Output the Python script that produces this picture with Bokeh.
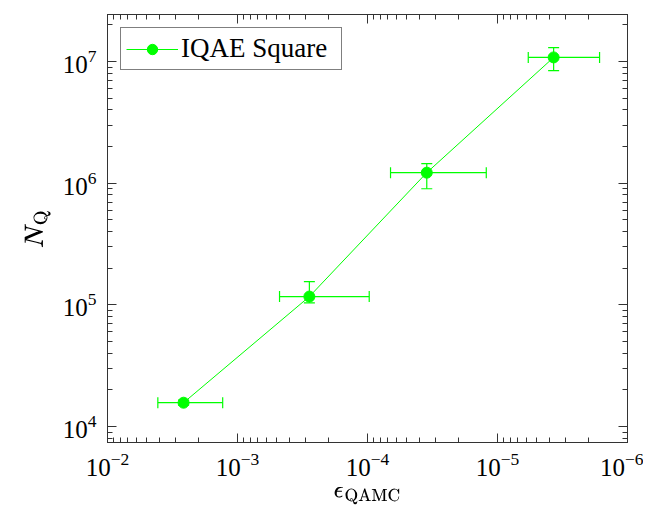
from bokeh.plotting import figure
from bokeh.models import (Range1d, ColumnDataSource, Whisker, TeeHead, LogAxis, LogTicker,
                          Legend, LegendItem, TeX)
from bokeh.embed import file_html
from bokeh.resources import INLINE

# data
eps = [2.6e-3, 2.8e-4, 3.5e-5, 3.7e-6]
eps_lo = [1.3e-3, 9.7e-5, 1.22e-5, 1.64e-6]   # smaller-epsilon end
eps_hi = [4.1e-3, 4.75e-4, 6.65e-5, 5.8e-6]   # larger-epsilon end
nq = [1.57e4, 1.17e5, 1.22e6, 1.08e7]
nq_lo = [1.5e4, 1.04e5, 9.0e5, 8.4e6]
nq_hi = [1.65e4, 1.55e5, 1.45e6, 1.30e7]
series_name = "IQAE Square"

GREEN = "#00ff00"
SERIF = "Liberation Serif"

src = ColumnDataSource(dict(x=eps, xl=eps_lo, xh=eps_hi, y=nq, yl=nq_lo, yh=nq_hi))

p = figure(width=643, height=512, x_axis_type="log", y_axis_type="log",
           x_range=Range1d(1e-2, 1e-6), y_range=Range1d(10**3.869, 10**7.386),
           output_backend="svg", toolbar_location=None,
           min_border_left=107, min_border_top=14, min_border_right=16, min_border_bottom=70)
p.background_fill_color = "white"
p.border_fill_color = "white"
p.xgrid.visible = False
p.ygrid.visible = False
p.outline_line_color = "#333333"
p.outline_line_width = 1

# error bars
wx = Whisker(source=src, base="y", lower="xl", upper="xh", dimension="width",
             line_color=GREEN, line_width=1.2,
             upper_head=TeeHead(size=11, line_color=GREEN, line_width=1.2),
             lower_head=TeeHead(size=11, line_color=GREEN, line_width=1.2))
wy = Whisker(source=src, base="x", lower="yl", upper="yh", dimension="height",
             line_color=GREEN, line_width=1.2,
             upper_head=TeeHead(size=11, line_color=GREEN, line_width=1.2),
             lower_head=TeeHead(size=11, line_color=GREEN, line_width=1.2))
p.add_layout(wx)
p.add_layout(wy)

r_line = p.line("x", "y", source=src, line_color=GREEN, line_width=1)
r_pts = p.scatter("x", "y", source=src, size=11, fill_color=GREEN, line_color=GREEN)

legend = Legend(items=[LegendItem(label=series_name, renderers=[r_line, r_pts])],
                location="top_left")
legend.label_text_font = SERIF
legend.label_text_font_size = "27px"
legend.label_text_color = "black"
legend.border_line_color = "black"
legend.border_line_width = 1
legend.margin = 13
legend.padding = 5
legend.glyph_width = 52
legend.glyph_height = 26
legend.label_standoff = 3
legend.label_width = 155
legend.background_fill_alpha = 1
p.add_layout(legend)

def style_axis(ax, labels=True):
    ax.axis_line_color = "#333333"
    ax.major_tick_line_color = "#333333"
    ax.minor_tick_line_color = "#333333"
    ax.major_tick_in = 9
    ax.major_tick_out = 0
    ax.minor_tick_in = 5
    ax.minor_tick_out = 0
    if labels:
        ax.major_label_text_font = SERIF
        ax.major_label_text_font_size = "25px"
        ax.major_label_text_color = "black"
    else:
        ax.major_label_text_font_size = "1px"
        ax.major_label_text_alpha = 0
        ax.major_label_standoff = 0

for ax in p.xaxis + p.yaxis:
    style_axis(ax)
    ax.ticker = LogTicker(num_minor_ticks=10, mantissas=[1])

p.xaxis.major_label_standoff = 10
p.yaxis.major_label_standoff = 11

p.xaxis.axis_label = TeX(text=r"\epsilon_\mathrm{QAMC}")
p.yaxis.axis_label = TeX(text=r"N_\mathrm{Q}")
p.xaxis.axis_label_text_font_size = "20px"
p.yaxis.axis_label_text_font_size = "22px"
p.xaxis.axis_label_text_color = "black"
p.yaxis.axis_label_text_color = "black"
p.xaxis.axis_label_standoff = 8
p.yaxis.axis_label_standoff = 9

top = LogAxis(ticker=LogTicker(num_minor_ticks=10, mantissas=[1]))
right = LogAxis(ticker=LogTicker(num_minor_ticks=10, mantissas=[1]))
style_axis(top, labels=False)
style_axis(right, labels=False)
p.add_layout(top, "above")
p.add_layout(right, "right")

open("out.html", "w").write(file_html(p, INLINE))
